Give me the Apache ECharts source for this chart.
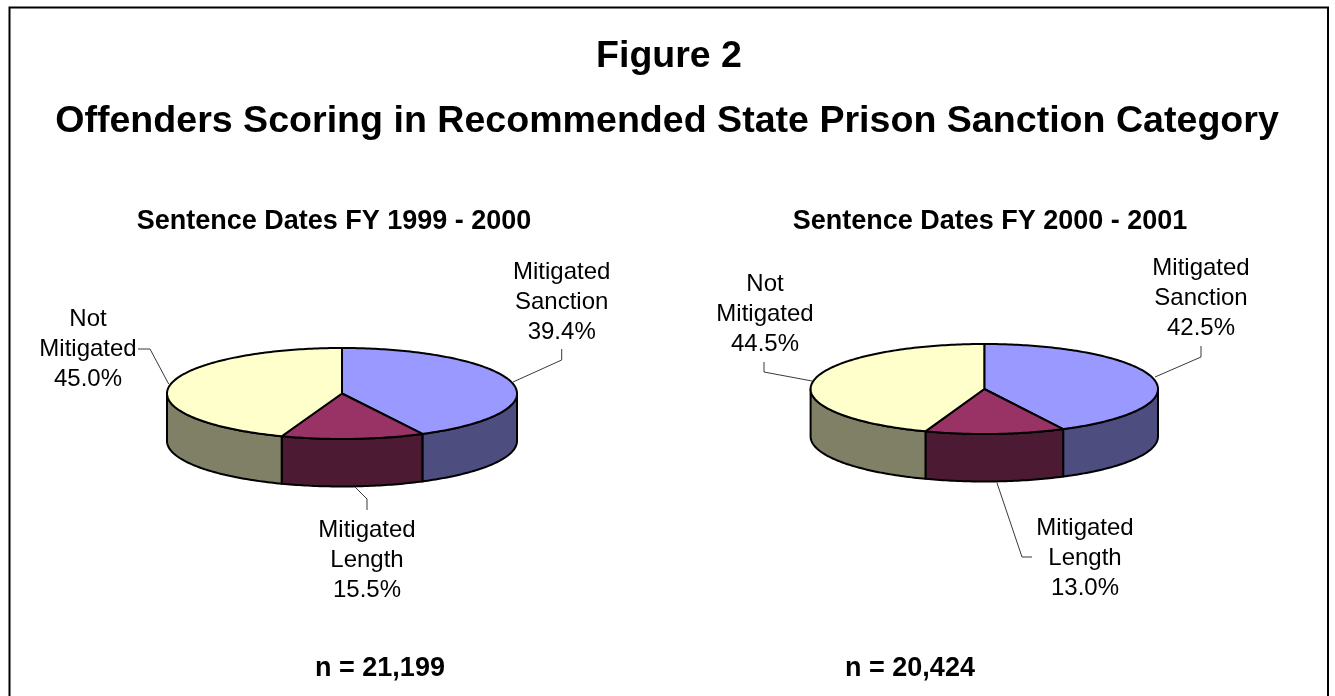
<!DOCTYPE html>
<html>
<head>
<meta charset="utf-8">
<style>html,body{margin:0;padding:0;background:#fff}#c{width:1335px;height:696px}</style>
<script src="https://cdn.jsdelivr.net/npm/echarts@6/dist/echarts.min.js"></script>
</head>
<body>
<div id="c"></div>
<script>
// Wedge shares (%) as drawn in the picture, clockwise from 12 o'clock.
var sliceNames = ['Mitigated\nSanction', 'Mitigated\nLength', 'Not\nMitigated'];
var sharesDrawn1999 = [42.4, 13.2, 44.4];
var sharesDrawn2000 = [42.5, 13.0, 44.5];
// Percentages as printed on the labels. (The left pie is printed 39.4 / 15.5 / 45.0
// but its wedges are drawn like the right pie's, so they are kept separately.)
var labels1999 = ['39.4%', '15.5%', '45.0%'];
var labels2000 = ['42.5%', '13.0%', '44.5%'];
var topColors = ['#9999ff', '#993366', '#ffffcc'];
var sideColors = ['#4d4d80', '#4d1a33', '#808066'];

var FONT = '"Liberation Sans", Arial, sans-serif';
var pies = [
  {values: sharesDrawn1999, labels: labels1999, cx: 342, cy: 393.5, rx: 175, ry: 45.5, depth: 47.5,
   labelPos: [[561.7, 302], [367, 560], [88, 349.5]],
   leaders: [[[513, 382], [561.7, 360], [561.7, 349]], [[355, 487], [367, 499], [367, 510]], [[138, 349], [150, 349], [168.7, 384]]]},
  {values: sharesDrawn2000, labels: labels2000, cx: 984.3, cy: 389, rx: 173.7, ry: 45, depth: 47.5,
   labelPos: [[1201, 298], [1085, 558], [765, 314]],
   leaders: [[[1155, 377], [1201, 357], [1201, 346]], [[997, 483], [1022, 557], [1032, 557]], [[764, 362], [764, 372], [812, 381]]]}
];

function ptOn(p, deg, dy) {
  var a = deg * Math.PI / 180;
  return [p.cx + p.rx * Math.sin(a), p.cy - p.ry * Math.cos(a) + (dy || 0)];
}
function arc(p, from, to, dy) {
  var pts = [], n = Math.max(2, Math.ceil(Math.abs(to - from)));
  for (var i = 0; i <= n; i++) pts.push(ptOn(p, from + (to - from) * i / n, dy));
  return pts;
}
function renderPie(pieIdx) {
  return function (params, api) {
    if (params.dataIndex !== 0) return {type: 'group', children: []};
    var p = pies[pieIdx], total = p.values.reduce(function (a, b) { return a + b; }, 0);
    var start = 0, sides = [], tops = [], extras = [];
    p.values.forEach(function (v, i) {
      var end = start + v / total * 360;
      // visible outer wall: the part of the wedge between 90 and 270 degrees
      var a = Math.max(start, 90), b = Math.min(end, 270);
      if (b > a) {
        var front = arc(p, a, b, 0), back = arc(p, b, a, p.depth);
        sides.push({type: 'polygon', shape: {points: front.concat(back)},
          style: {fill: sideColors[i], stroke: '#000', lineWidth: 2, lineJoin: 'round'}});
      }
      var wedge = [[p.cx, p.cy]].concat(arc(p, start, end, 0));
      tops.push({type: 'polygon', shape: {points: wedge},
        style: {fill: topColors[i], stroke: '#000', lineWidth: 2, lineJoin: 'round'}});
      extras.push({type: 'polyline', shape: {points: p.leaders[i]},
        style: {fill: null, stroke: '#222', lineWidth: 0.9}});
      extras.push({type: 'text', x: p.labelPos[i][0], y: p.labelPos[i][1],
        style: {text: sliceNames[i] + '\n' + p.labels[i], font: '24px ' + FONT, fill: '#000',
                align: 'center', verticalAlign: 'middle', lineHeight: 30}});
      start = end;
    });
    return {type: 'group', children: sides.concat(tops, extras)};
  };
}

var chart = echarts.init(document.getElementById('c'), null, {renderer: 'canvas'});
function titleAt(text, x, y, size) {
  return {text: text, left: x, top: y, textAlign: 'center', textVerticalAlign: 'middle', padding: 0,
    textStyle: {fontFamily: FONT, fontWeight: 'bold', fontSize: size, color: '#000'}};
}
chart.setOption({
  animation: false,
  backgroundColor: '#fff',
  title: [
    titleAt('Figure 2', 669, 57, 37.5),
    titleAt('Offenders Scoring in Recommended State Prison Sanction Category', 667, 122, 37.6),
    titleAt('Sentence Dates FY 1999 - 2000', 334, 222, 27),
    titleAt('Sentence Dates FY 2000 - 2001', 990, 222, 27),
    titleAt('n = 21,199', 380, 669, 27),
    titleAt('n = 20,424', 910, 669, 27)
  ],
  graphic: [{type: 'polyline', silent: true,
    shape: {points: [[9.5, 696], [9.5, 7.5], [1328, 7.5], [1328, 696]]},
    style: {fill: null, stroke: '#000', lineWidth: 2}}],
  series: [
    {type: 'custom', coordinateSystem: 'none', data: sharesDrawn1999, renderItem: renderPie(0), silent: true},
    {type: 'custom', coordinateSystem: 'none', data: sharesDrawn2000, renderItem: renderPie(1), silent: true}
  ]
});
</script>
</body>
</html>
